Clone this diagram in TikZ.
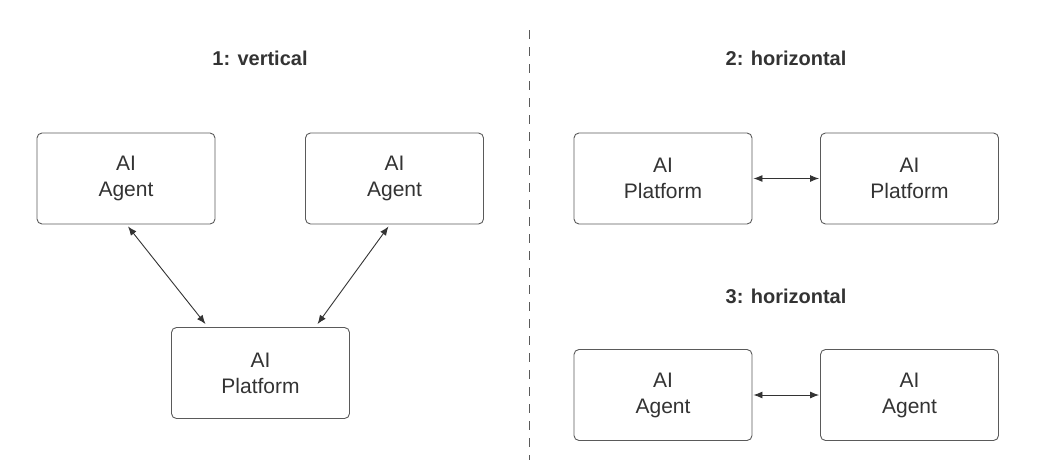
\documentclass[tikz,border=0pt]{standalone}
\usepackage{fontspec}
\setmainfont{Liberation Sans}
\usetikzlibrary{arrows.meta,calc}
\definecolor{txt}{HTML}{333333}
\definecolor{bd}{HTML}{5A5A5A}
\begin{document}
\begin{tikzpicture}[x=1pt,y=-1pt,
 box/.style={draw=bd,line width=0.9pt,rounded corners=5pt,minimum width=178pt,minimum height=91pt,align=center,text=txt,font=\fontsize{21}{26}\selectfont},
 ttl/.style={text=txt,font=\bfseries\fontsize{20}{24}\selectfont},
 conn/.style={draw=txt,line width=0.9pt,{Latex[length=9pt,width=7pt]}-{Latex[length=9pt,width=7pt]}}]
\useasboundingbox (0,0) rectangle (1040,463);
\node[ttl] (t1) at (260,58) {1: vertical};
\node[ttl] (t2) at (786,58) {2: horizontal};
\node[ttl] (t3) at (786,296) {3: horizontal};
\coordinate (d1) at (529,30); \coordinate (d2) at (529,460);
\draw[bd,line width=0.9pt,dash pattern=on 9pt off 8pt] (d1) -- (d2);
\node[box] (a1) at (126,178.5) {AI\\Agent};
\node[box] (a2) at (394.5,178.5) {AI\\Agent};
\node[box] (p1) at (260.5,373) {AI\\Platform};
\node[box] (p2) at (663,178.5) {AI\\Platform};
\node[box] (p3) at (909.5,178.5) {AI\\Platform};
\node[box] (a3) at (663,395) {AI\\Agent};
\node[box] (a4) at (909.5,395) {AI\\Agent};
\draw[conn] ($(a1.south)+(2,2)$) -- ($(p1.north)+(-55,-3)$);
\draw[conn] ($(a2.south)+(-6,2)$) -- ($(p1.north)+(57,-3)$);
\draw[conn] ($(p2.east)+(1,0)$) -- ($(p3.west)+(-1,0)$);
\draw[conn] ($(a3.east)+(1,0)$) -- ($(a4.west)+(-1,0)$);
\end{tikzpicture}
\end{document}
